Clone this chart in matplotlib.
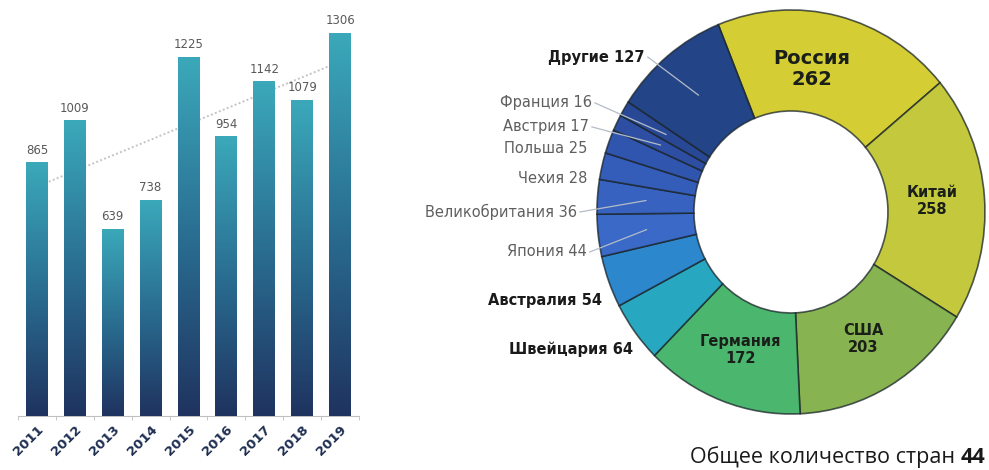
import numpy as np
import matplotlib.pyplot as plt
from matplotlib.colors import LinearSegmentedColormap

# yearly totals
years = ["2011", "2012", "2013", "2014", "2015", "2016", "2017", "2018", "2019"]
counts = [865, 1009, 639, 738, 1225, 954, 1142, 1079, 1306]

# breakdown by country
countries = ["Россия", "Китай", "США", "Германия", "Швейцария", "Австралия",
             "Япония", "Великобритания", "Чехия", "Польша", "Австрия",
             "Франция", "Другие"]
country_counts = [262, 258, 203, 172, 64, 54, 44, 36, 28, 25, 17, 16, 127]
n_countries = 44

donut_colors = ["#d5cd34", "#c3c83c", "#87b450", "#4bb76e", "#28a8c0",
                "#2d87cd", "#3a69c8", "#3762c0", "#345cb9", "#3055af",
                "#2d4ea2", "#284896", "#234487"]

# labels drawn inside the ring: font size, x nudge
inside = {"Россия": (14, -0.07), "Китай": (10.5, 0.0), "США": (10.5, 0.0),
          "Германия": (10.5, 0.0)}
# labels left of the ring: (x, y, bold, leader line)
outside = {
    "Другие": (-0.753, 0.767, True, True),
    "Франция": (-1.026, 0.540, False, True),
    "Австрия": (-1.041, 0.421, False, True),
    "Польша": (-1.052, 0.312, False, False),
    "Чехия": (-1.052, 0.168, False, False),
    "Великобритания": (-1.103, 0.0, False, True),
    "Япония": (-1.052, -0.198, False, True),
    "Австралия": (-0.974, -0.436, True, False),
    "Швейцария": (-0.814, -0.678, True, False),
}

fig = plt.figure(figsize=(9.89, 4.7), dpi=100)

# ---- bar chart ----
ax = fig.add_axes([0.0182, 0.1149, 0.3448, 0.8736])
bar_cmap = LinearSegmentedColormap.from_list("bars", ["#1f335f", "#2a6e92", "#3ba9ba"])
xpos = np.arange(len(years))
bars = ax.bar(xpos, counts, width=0.58, color="none", zorder=3)
grad = np.linspace(0, 1, 256).reshape(-1, 1)
for bar in bars:
    x0, w, h = bar.get_x(), bar.get_width(), bar.get_height()
    im = ax.imshow(grad, extent=[x0, x0 + w, 0, h], origin="lower",
                   cmap=bar_cmap, aspect="auto", zorder=3, interpolation="bilinear")
    im.set_clip_path(bar)

coef = np.polyfit(xpos, counts, 1)
ax.plot(xpos, np.polyval(coef, xpos), ls=(0, (1, 1.2)), color="#c4c4c4", lw=1.4, zorder=2)

for x, v in zip(xpos, counts):
    ax.annotate(f"{v}", (x, v), xytext=(0, 4), textcoords="offset points",
                ha="center", va="bottom", fontsize=8.5, color="#595959")

ax.set_xlim(-0.5, 8.5)
ax.set_ylim(0, 1400)
ax.set_xticks(xpos)
ax.set_xticklabels(years, rotation=45, ha="right", rotation_mode="anchor",
                   fontsize=9.5, fontweight="bold", color="#1f2f52")
ax.tick_params(axis="x", which="major", length=0, pad=5)
ax.set_xticks(np.arange(-0.5, 9, 1), minor=True)
ax.tick_params(axis="x", which="minor", length=3, color="#bfbfbf")
ax.set_yticks([])
for s in ["top", "right", "left"]:
    ax.spines[s].set_visible(False)
ax.spines["bottom"].set_color("#bfbfbf")

# ---- donut ----
pax = fig.add_axes([0.5938, 0.0977, 0.4119, 0.9026])
wedges, _ = pax.pie(country_counts, colors=donut_colors, startangle=112,
                    counterclock=False, radius=1,
                    wedgeprops=dict(width=0.5, edgecolor=(0.1, 0.14, 0.16, 0.75), linewidth=1.2))
pax.set_aspect("auto")
pax.set_xlim(-1.05, 1.05)
pax.set_ylim(-1.05, 1.05)

for w, name, val in zip(wedges, countries, country_counts):
    mid = np.deg2rad((w.theta1 + w.theta2) / 2)
    if name in inside:
        size, dx = inside[name]
        r = 0.73
        pax.text(r * np.cos(mid) + dx, r * np.sin(mid), f"{name}\n{val}",
                 ha="center", va="center", fontsize=size,
                 fontweight="bold", color="#1a1f1a", linespacing=1.15)
    elif name in outside:
        x, y, bold, leader = outside[name]
        pax.text(x, y, f"{name} {val}", ha="right", va="center",
                 fontsize=10.5,
                 fontweight="bold" if bold else "normal",
                 color="#1a1a1a" if bold else "#5f5f5f")
        if leader:
            r = 0.75
            pax.plot([x + 0.015, r * np.cos(mid)], [y, r * np.sin(mid)],
                     color="#b4bcc8", lw=0.9, clip_on=False, zorder=5)

t44 = fig.text(985 / 989, 0.004, f"{n_countries}", ha="right", va="bottom",
               fontsize=15.5, fontweight="bold", color="#1a1a1a", family="Open Sans")
pax.annotate("Общее количество стран ", xy=(0, 0), xycoords=t44,
             ha="right", va="bottom", fontsize=15.5, color="#1a1a1a",
             family="Open Sans", annotation_clip=False)

fig.savefig("out.png", dpi=100, facecolor="white")
